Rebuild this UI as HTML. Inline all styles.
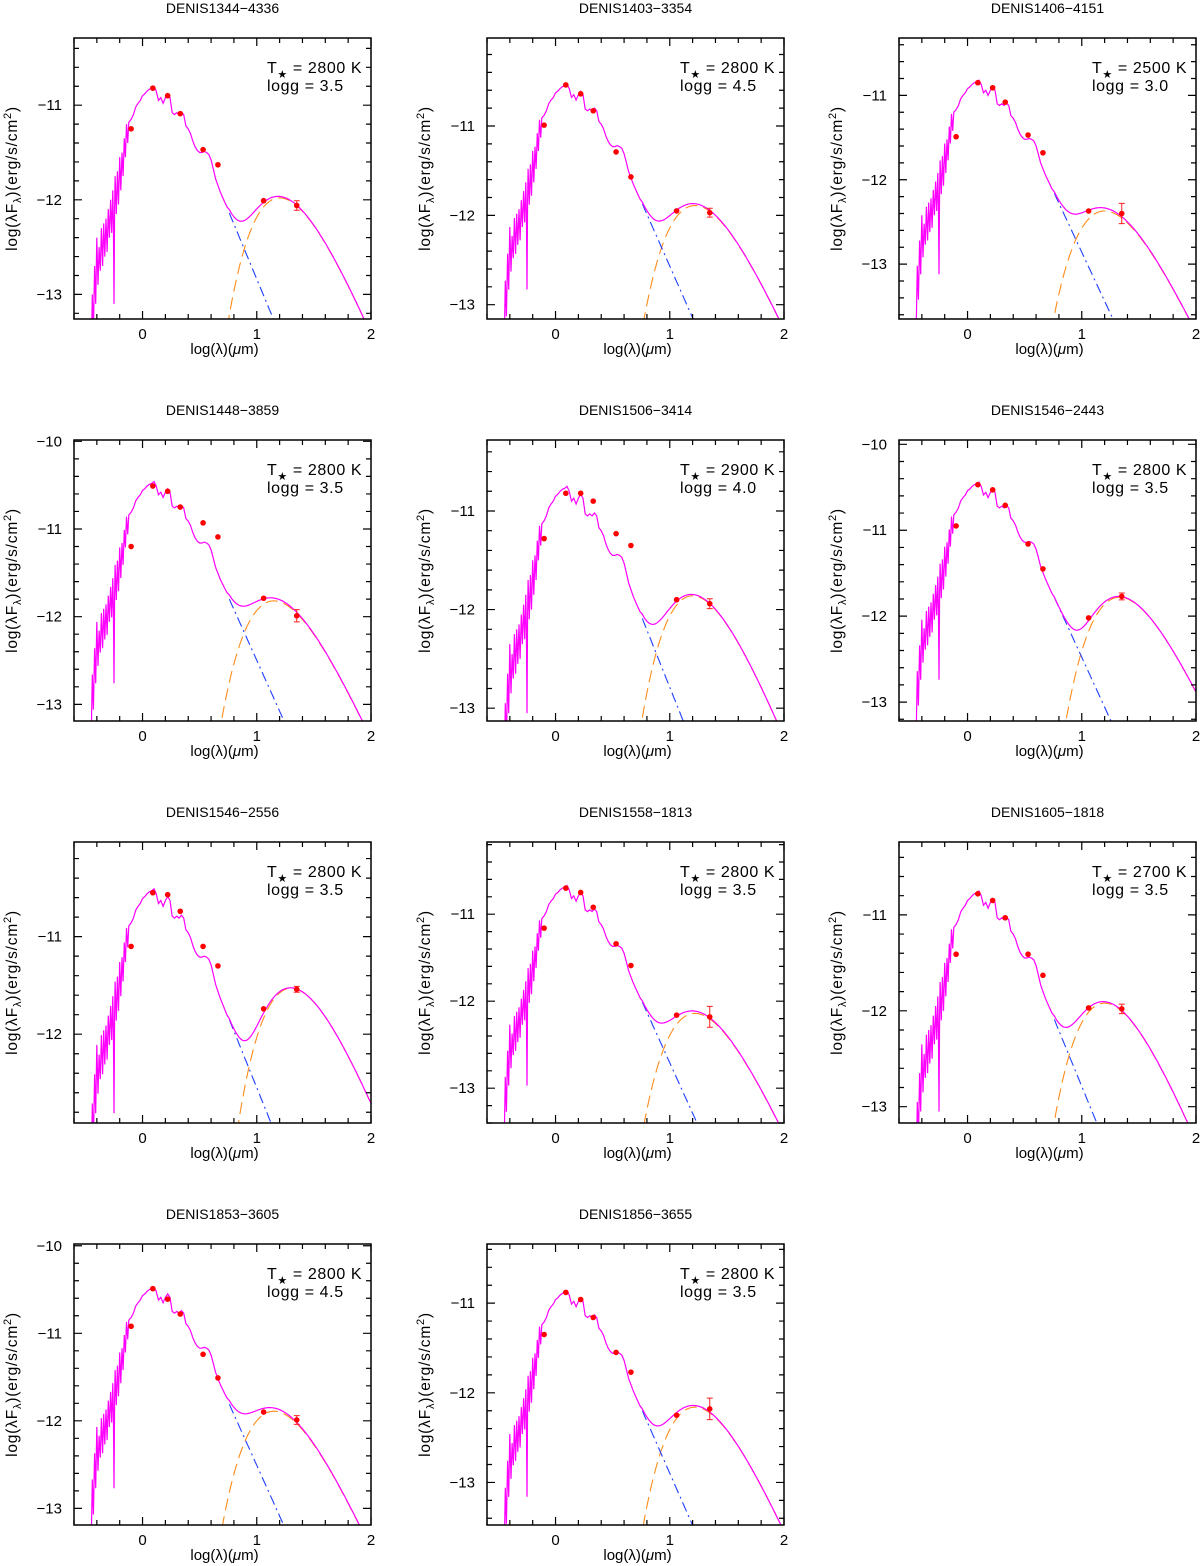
<!DOCTYPE html>
<html><head><meta charset="utf-8">
<style>
html,body{margin:0;padding:0;background:#fff;overflow:hidden;}
svg{display:block;font-family:"Liberation Sans",Arial,sans-serif;}
</style></head>
<body>
<svg id="fig" width="1200" height="1566" viewBox="0 0 1200 1566" xmlns="http://www.w3.org/2000/svg"></svg>
<script>
// ---- data ----
const panelNames = ["DENIS1344\u22124336","DENIS1403\u22123354","DENIS1406\u22124151","DENIS1448\u22123859","DENIS1506\u22123414","DENIS1546\u22122443","DENIS1546\u22122556","DENIS1558\u22121813","DENIS1605\u22121818","DENIS1853\u22123605","DENIS1856\u22123655"];
const teffs = [2800,2800,2500,2800,2900,2800,2800,2800,2700,2800,2800];
const loggs = ["3.5","4.5","3.0","3.5","4.0","3.5","3.5","3.5","3.5","4.5","3.5"];
const yTops = [-10.29,-10.015,-10.32,-9.985,-10.28,-9.95,-10.03,-10.17,-10.24,-9.98,-10.34];
const yBottoms = [-13.26,-13.16,-13.65,-13.19,-13.13,-13.22,-12.91,-13.40,-13.17,-13.19,-13.475];
const starPeaks = [-10.8,-10.53,-10.82,-10.46,-10.75,-10.44,-10.51,-10.67,-10.75,-10.47,-10.86];
const diskPeakX = [1.2,1.22,1.2,1.15,1.2,1.33,1.3,1.22,1.2,1.15,1.22];
const diskPeakY = [-11.98,-11.89,-12.37,-11.82,-11.86,-11.78,-11.53,-12.14,-11.92,-11.89,-12.16];
const bandX = [-0.1,0.09,0.22,0.33,0.53,0.66,1.06,1.35];
const photY = [
 [-11.25,-10.82,-10.9,-11.09,-11.47,-11.63,-12.01,-12.06],
 [-10.99,-10.54,-10.64,-10.83,-11.29,-11.57,-11.95,-11.97],
 [-11.49,-10.85,-10.91,-11.08,-11.47,-11.68,-12.37,-12.40],
 [-11.20,-10.51,-10.57,-10.75,-10.93,-11.09,-11.79,-11.99],
 [-11.28,-10.82,-10.82,-10.90,-11.23,-11.35,-11.90,-11.94],
 [-10.95,-10.47,-10.53,-10.71,-11.16,-11.45,-12.02,-11.77],
 [-11.10,-10.55,-10.57,-10.74,-11.10,-11.30,-11.74,-11.54],
 [-11.16,-10.70,-10.75,-10.92,-11.34,-11.59,-12.16,-12.18],
 [-11.41,-10.78,-10.85,-11.03,-11.41,-11.63,-11.97,-11.98],
 [-10.92,-10.49,-10.61,-10.78,-11.24,-11.51,-11.90,-11.99],
 [-11.35,-10.88,-10.96,-11.16,-11.55,-11.77,-12.25,-12.18]
];
const w4Err = [0.05,0.05,0.12,0.07,0.05,0.04,0.03,0.12,0.05,0.05,0.12];
const templateX = [-0.45,-0.44,-0.43,-0.42,-0.41,-0.40,-0.39,-0.38,-0.37,-0.36,-0.35,-0.34,-0.33,-0.32,-0.31,-0.30,-0.29,-0.28,-0.27,-0.26,-0.255,-0.25,-0.245,-0.24,-0.23,-0.22,-0.21,-0.20,-0.19,-0.18,-0.17,-0.16,-0.15,-0.14,-0.13,-0.12,-0.10,-0.08,-0.06,-0.04,-0.02,0,0.02,0.04,0.06,0.08,0.10,0.12,0.14,0.16,0.18,0.20,0.22,0.24,0.26,0.28,0.30,0.32,0.34,0.36,0.38,0.40,0.42,0.44,0.46,0.48,0.50,0.52,0.54,0.56,0.58,0.60,0.62,0.64,0.66,0.68,0.70,0.72,0.74,0.76,0.78];
const templateY = [-3.0,-2.2,-2.6,-1.9,-2.3,-1.6,-2.1,-1.7,-1.95,-1.5,-1.9,-1.45,-1.8,-1.4,-1.75,-1.3,-1.6,-1.2,-1.55,-1.1,-1.45,-2.3,-1.3,-0.95,-1.35,-0.9,-1.25,-0.75,-1.1,-0.7,-0.95,-0.55,-0.75,-0.4,-0.6,-0.38,-0.35,-0.3,-0.22,-0.18,-0.15,-0.1,-0.08,-0.05,-0.03,-0.02,0,-0.05,-0.15,-0.12,-0.18,-0.12,-0.08,-0.12,-0.28,-0.3,-0.28,-0.3,-0.27,-0.3,-0.42,-0.45,-0.5,-0.58,-0.64,-0.68,-0.70,-0.70,-0.69,-0.70,-0.72,-0.78,-0.88,-0.98,-1.05,-1.12,-1.18,-1.24,-1.30,-1.34,-1.40];
const rjSlope = -2.9;

// ---- layout ----
const NS = "http://www.w3.org/2000/svg";
const svg = document.getElementById('fig');
const colX = [74,487,899], rowY = [38,440,842,1244];
const PW = 297, PH = 281, XMIN = -0.6, XMAX = 2.0;

function mk(tag, attrs, parent){
  const e = document.createElementNS(NS, tag);
  for (const k in attrs) e.setAttribute(k, attrs[k]);
  (parent||svg).appendChild(e);
  return e;
}
function phot(i, x){
  const n = templateX.length;
  if (x >= templateX[n-1]) return starPeaks[i] + templateY[n-1] + rjSlope*(x - templateX[n-1]);
  for (let k=1;k<n;k++){
    if (x <= templateX[k]){
      const t = (x - templateX[k-1])/(templateX[k]-templateX[k-1]);
      return starPeaks[i] + templateY[k-1] + t*(templateY[k]-templateY[k-1]);
    }
  }
  return starPeaks[i] + templateY[0];
}
function disk(i, x){
  const T = 3670/Math.pow(10, diskPeakX[i]);
  const f = xx => { const lam = Math.pow(10,xx); return -4*xx - Math.log10(Math.expm1(14388/(lam*T))); };
  return diskPeakY[i] + f(x) - f(diskPeakX[i]);
}

for (let i=0;i<panelNames.length;i++){
  const x0 = colX[i%3], y0 = rowY[Math.floor(i/3)];
  const yT = yTops[i], yB = yBottoms[i];
  const sx = v => x0 + (v - XMIN)/(XMAX - XMIN)*PW;
  const sy = v => y0 + (yT - v)/(yT - yB)*PH;
  const g = mk('g', {});
  
  

  const title = mk('text', {x: x0+PW/2, y: y0-25, 'text-anchor':'middle', 'font-size':'14'}, g);
  title.textContent = panelNames[i];
  
  

  const cid = 'clip'+i;
  const cp = mk('clipPath', {id: cid}, g);
  mk('rect', {x:x0, y:y0, width:PW, height:PH}, cp);
  const plot = mk('g', {'clip-path':'url(#'+cid+')'}, g);

  let pts = [];
  for (let x=0.6; x<=2.05; x+=0.01) pts.push(sx(x).toFixed(1)+','+sy(disk(i,x)).toFixed(1));
  const dl = mk('polyline', {points: pts.join(' '), fill:'none', stroke:'#ff8c1a', 'stroke-width':'1.1', 'stroke-dasharray':'12,6'}, plot);
  
  

  pts = [];
  for (let x=0.76; x<=1.8; x+=0.01) pts.push(sx(x).toFixed(1)+','+sy(phot(i,x)).toFixed(1));
  const bl = mk('polyline', {points: pts.join(' '), fill:'none', stroke:'#1f3fff', 'stroke-width':'1.1', 'stroke-dasharray':'10,4,2,4'}, plot);
  
  

  pts = [];
  for (let k=0;k<templateX.length;k++){
    const x = templateX[k];
    const v = Math.log10(Math.pow(10, phot(i,x)) + Math.pow(10, disk(i,x)));
    pts.push(sx(x).toFixed(1)+','+sy(v).toFixed(1));
  }
  for (let x=0.79; x<=2.05; x+=0.01){
    const v = Math.log10(Math.pow(10, phot(i,x)) + Math.pow(10, disk(i,x)));
    pts.push(sx(x).toFixed(1)+','+sy(v).toFixed(1));
  }
  const tot = mk('polyline', {points: pts.join(' '), fill:'none', stroke:'#ff00ff', 'stroke-width':'1.2'}, plot);
  
  

  for (let k=0;k<bandX.length;k++){
    const cx = sx(bandX[k]), cy = sy(photY[i][k]);
    if (k === 7){
      const e = w4Err[i];
      const eb = mk('path', {d:`M${cx},${sy(photY[i][k]+e)}V${sy(photY[i][k]-e)}M${cx-3},${sy(photY[i][k]+e)}h6M${cx-3},${sy(photY[i][k]-e)}h6`, stroke:'#ff2020', 'stroke-width':'1', fill:'none'}, plot);
      
      
    }
    const c = mk('circle', {cx:cx, cy:cy, r:2.8, fill:'#ff0000'}, plot);
    
    
  }

  const fr = mk('rect', {x:x0, y:y0, width:PW, height:PH, fill:'none', stroke:'#000', 'stroke-width':'1.5'}, g);
  
  

  let d = '';
  for (let t=-6;t<=20;t+=2){
    const v = t/10; if (v < XMIN-1e-9 || v > XMAX+1e-9) continue;
    const L = (t%10===0)?8:5; const X = sx(v);
    d += `M${X},${y0+PH}v${-L}M${X},${y0}v${L}`;
  }
  for (let t=-140;t<=-99;t+=2){
    const v = t/10; if (v > yT || v < yB) continue;
    const L = (t%10===0)?8:5; const Y = sy(v);
    d += `M${x0},${Y}h${L}M${x0+PW},${Y}h${-L}`;
  }
  const tk = mk('path', {d:d, stroke:'#000', 'stroke-width':'1.2', fill:'none'}, g);
  
  

  for (let v=0; v<=2; v++){
    const tl = mk('text', {x:sx(v), y:y0+PH+20, 'text-anchor':'middle', 'font-size':'15'}, g);
    tl.textContent = String(v);
    
    
  }
  for (let v=-14; v<=-10; v++){
    if (v > yT + 0.01 || v < yB) continue;
    const tl = mk('text', {x:x0-12, y:sy(v)+5, 'text-anchor':'end', 'font-size':'15'}, g);
    tl.textContent = '\u2212' + Math.abs(v);
    
    
  }
  const xt = mk('text', {x:x0+PW/2+2, y:y0+PH+35, 'text-anchor':'middle', 'font-size':'15'}, g);
  xt.innerHTML = 'log(\u03bb)(<tspan font-style="italic">\u03bc</tspan>m)';
  
  

  const yt = mk('text', {x:0, y:0, 'text-anchor':'middle', 'font-size':'15.5', 'letter-spacing':'0.8', transform:`translate(${x0-57},${y0+PH/2}) rotate(-90)`}, g);
  yt.innerHTML = 'log(\u03bbF<tspan font-size="11" dy="4">\u03bb</tspan><tspan dy="-4">)(erg/s/cm</tspan><tspan font-size="11" dy="-6">2</tspan><tspan dy="6">)</tspan>';
  
  

  const t1 = mk('text', {x:x0+193, y:y0+35, 'font-size':'16', 'letter-spacing':'0.6', 'xml:space':'preserve'}, g);
  t1.innerHTML = 'T<tspan font-size="11" dy="5">\u2605</tspan><tspan dy="-5"> =  ' + teffs[i] + '  K</tspan>';
  
  
  const t2 = mk('text', {x:x0+193, y:y0+53, 'font-size':'16', 'letter-spacing':'0.6', 'xml:space':'preserve'}, g);
  t2.textContent = 'logg  =  ' + loggs[i];
  
  
}
</script>
</body></html>
